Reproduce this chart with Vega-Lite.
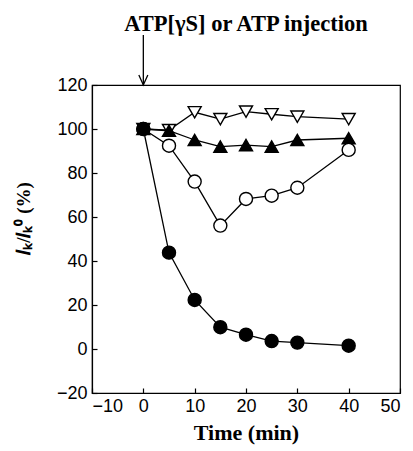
{
  "$schema": "https://vega.github.io/schema/vega-lite/v6.json",
  "width": 308,
  "height": 308,
  "autosize": {"type": "none"},
  "padding": {"left": 92, "top": 85, "right": 13, "bottom": 58},
  "background": "white",
  "config": {
    "view": {"stroke": "black", "strokeWidth": 1.2},
    "axis": {
      "grid": false,
      "domainColor": "black",
      "tickColor": "black",
      "labelColor": "black",
      "titleColor": "black",
      "labelFont": "Liberation Sans",
      "labelFontSize": 18,
      "titleFont": "Liberation Serif",
      "titleFontSize": 22,
      "titleFontWeight": "bold",
      "tickWidth": 1.2,
      "domainWidth": 1.2
    }
  },
  "layer": [
    {
      "data": {"name": "series"},
      "layer": [
        {
          "mark": {"type": "line", "color": "black", "strokeWidth": 1.3},
          "encoding": {"detail": {"field": "series"}}
        },
        {
          "mark": {"type": "point", "filled": true, "stroke": "black", "strokeWidth": 1.4, "size": 170, "opacity": 1},
          "encoding": {
            "shape": {
              "field": "series",
              "scale": {"domain": ["ATPgS_up", "tri_filled", "circ_open", "circ_filled"], "range": ["triangle-down", "triangle-up", "circle", "circle"]},
              "legend": null
            },
            "fill": {
              "field": "series",
              "scale": {"domain": ["ATPgS_up", "tri_filled", "circ_open", "circ_filled"], "range": ["white", "black", "white", "black"]},
              "legend": null
            }
          }
        }
      ],
      "encoding": {
        "x": {
          "field": "time",
          "type": "quantitative",
          "scale": {"domain": [-10, 50], "nice": false, "zero": false},
          "axis": {
            "values": [-10, 0, 10, 20, 30, 40, 50],
            "tickSize": -5,
            "labelPadding": 9,
            "title": "Time (min)",
            "titleY": 46,
            "titleBaseline": "alphabetic"
          }
        },
        "y": {
          "field": "value",
          "type": "quantitative",
          "scale": {"domain": [-20, 120], "nice": false, "zero": false},
          "axis": {
            "values": [-20, 0, 20, 40, 60, 80, 100, 120],
            "tickSize": -5,
            "labelPadding": 10,
            "title": "𝐼ₖ/𝐼ₖ⁰ (%)",
            "titleFontSize": 19,
            "titleX": -69,
            "titleY": 133,
            "titleAlign": "center",
            "titleBaseline": "middle",
            "titleAngle": -90
          }
        }
      }
    },
    {
      "data": {"name": "annotation"},
      "layer": [
        {
          "mark": {"type": "rule", "color": "black", "strokeWidth": 1.3},
          "encoding": {
            "x": {"datum": 0},
            "y": {"datum": 120},
            "y2": {"datum": 142.7}
          }
        },
        {
          "mark": {"type": "point", "shape": "M-0.9,-2L0,0L0.9,-2", "size": 100, "filled": false, "stroke": "black", "strokeWidth": 1.3, "opacity": 1},
          "encoding": {
            "x": {"datum": 0},
            "y": {"datum": 120}
          }
        },
        {
          "mark": {"type": "text", "font": "Liberation Serif", "fontSize": 22.5, "fontWeight": "bold", "align": "center", "baseline": "alphabetic", "fill": "black"},
          "encoding": {
            "text": {"field": "label"},
            "x": {"datum": 20},
            "y": {"datum": 144.5}
          }
        }
      ]
    }
  ],
  "datasets": {
    "annotation": [
      {"label": "ATP[γS] or ATP injection"}
    ],
    "series": [
      {"series": "ATPgS_up", "time": 0, "value": 100},
      {"series": "ATPgS_up", "time": 5, "value": 99.5},
      {"series": "ATPgS_up", "time": 10, "value": 107.6},
      {"series": "ATPgS_up", "time": 15, "value": 104.5},
      {"series": "ATPgS_up", "time": 20, "value": 107.9},
      {"series": "ATPgS_up", "time": 25, "value": 106.7},
      {"series": "ATPgS_up", "time": 30, "value": 105.6},
      {"series": "ATPgS_up", "time": 40, "value": 104.5},
      {"series": "tri_filled", "time": 0, "value": 100},
      {"series": "tri_filled", "time": 5, "value": 99.2},
      {"series": "tri_filled", "time": 10, "value": 95},
      {"series": "tri_filled", "time": 15, "value": 92},
      {"series": "tri_filled", "time": 20, "value": 92.7},
      {"series": "tri_filled", "time": 25, "value": 92},
      {"series": "tri_filled", "time": 30, "value": 95},
      {"series": "tri_filled", "time": 40, "value": 95.8},
      {"series": "circ_open", "time": 0, "value": 100},
      {"series": "circ_open", "time": 5, "value": 92.4},
      {"series": "circ_open", "time": 10, "value": 76.1},
      {"series": "circ_open", "time": 15, "value": 56.1},
      {"series": "circ_open", "time": 20, "value": 68.2},
      {"series": "circ_open", "time": 25, "value": 69.7},
      {"series": "circ_open", "time": 30, "value": 73.3},
      {"series": "circ_open", "time": 40, "value": 90.5},
      {"series": "circ_filled", "time": 0, "value": 100},
      {"series": "circ_filled", "time": 5, "value": 43.8},
      {"series": "circ_filled", "time": 10, "value": 22.3},
      {"series": "circ_filled", "time": 15, "value": 9.9},
      {"series": "circ_filled", "time": 20, "value": 6.5},
      {"series": "circ_filled", "time": 25, "value": 3.6},
      {"series": "circ_filled", "time": 30, "value": 2.9},
      {"series": "circ_filled", "time": 40, "value": 1.5}
    ]
  }
}
